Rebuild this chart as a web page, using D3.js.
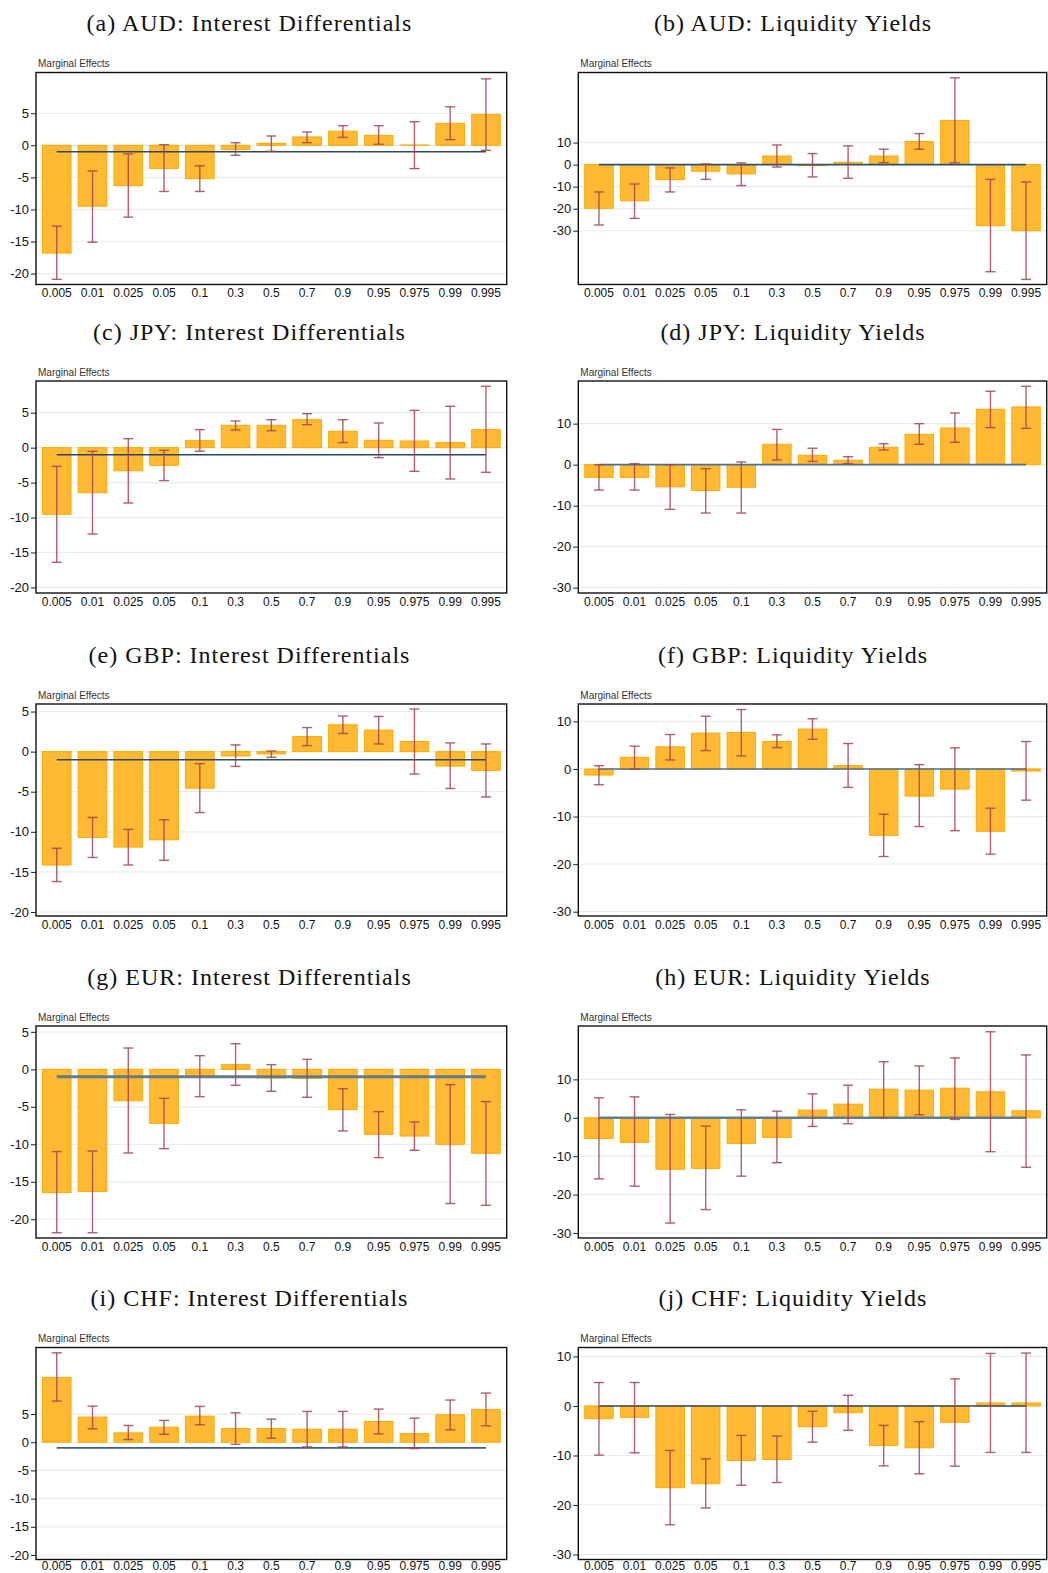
<!DOCTYPE html>
<html><head><meta charset="utf-8">
<script src="https://cdn.jsdelivr.net/npm/d3@7"></script>
<style>body{margin:0;background:#fff}svg{display:block}</style>
</head><body>
<svg id="chart" width="1048" height="1573"></svg>
<script>
// ---------- data ----------
const categories = ["0.005","0.01","0.025","0.05","0.1","0.3","0.5","0.7","0.9","0.95","0.975","0.99","0.995"];

const panelTitles = [
  "(a) AUD: Interest Differentials", "(b) AUD: Liquidity Yields",
  "(c) JPY: Interest Differentials", "(d) JPY: Liquidity Yields",
  "(e) GBP: Interest Differentials", "(f) GBP: Liquidity Yields",
  "(g) EUR: Interest Differentials", "(h) EUR: Liquidity Yields",
  "(i) CHF: Interest Differentials", "(j) CHF: Liquidity Yields"
];
const axisLabel = "Marginal Effects";

// (a) AUD interest differentials
const audIntValue = [-16.8,-9.5,-6.3,-3.6,-5.2,-0.67,0.3,1.3,2.2,1.55,0.05,3.42,4.82];
const audIntLower = [-20.9,-15.1,-11.2,-7.2,-7.2,-1.55,-0.93,0.41,1.24,0.16,-3.63,0.88,-0.78];
const audIntUpper = [-12.6,-4.0,-1.35,0.1,-3.2,0.4,1.45,2.07,3.06,3.06,3.68,6.0,10.36];
// (b) AUD liquidity yields
const audLiqValue = [-19.8,-16.4,-6.8,-3.0,-4.2,3.9,-0.45,1.06,3.9,10.45,20.0,-27.7,-30.0];
const audLiqLower = [-27.4,-24.4,-12.4,-6.7,-9.5,-1.1,-5.6,-6.2,0.9,7.0,0.8,-48.6,-52.1];
const audLiqUpper = [-12.4,-8.8,-1.5,0.3,0.8,8.9,5.0,8.5,7.0,14.1,39.4,-6.7,-7.9];
// (c) JPY interest differentials
const jpyIntValue = [-9.54,-6.44,-3.3,-2.53,1.0,3.2,3.2,4.0,2.34,1.05,0.95,0.72,2.58];
const jpyIntLower = [-16.4,-12.36,-7.92,-4.72,-0.52,2.53,2.43,3.29,0.72,-1.43,-3.39,-4.48,-3.53];
const jpyIntUpper = [-2.67,-0.52,1.29,-0.38,2.58,3.82,4.0,4.87,4.0,3.53,5.34,5.92,8.78];
// (d) JPY liquidity yields
const jpyLiqValue = [-3.1,-3.1,-5.4,-6.3,-5.5,4.96,2.28,1.06,4.23,7.4,8.94,13.5,14.07];
const jpyLiqLower = [-6.2,-6.2,-10.9,-11.8,-11.8,1.14,0.8,0.24,3.58,4.96,5.45,9.02,8.86];
const jpyLiqUpper = [0,0.24,0,-0.98,0.65,8.6,4.0,1.95,5.1,10.0,12.6,17.9,19.1];
// (e) GBP interest differentials
const gbpIntValue = [-14.14,-10.7,-11.9,-11.0,-4.56,-0.54,-0.29,1.88,3.35,2.68,1.26,-1.8,-2.34];
const gbpIntLower = [-16.2,-13.2,-14.14,-13.56,-7.6,-1.84,-0.71,0.75,2.26,0.96,-2.8,-4.6,-5.65];
const gbpIntUpper = [-12.05,-8.2,-9.7,-8.5,-1.5,0.84,0.08,3.0,4.44,4.39,5.31,1.09,0.96];
// (f) GBP liquidity yields
const gbpLiqValue = [-1.27,2.46,4.65,7.54,7.68,5.77,8.38,0.7,-13.94,-5.7,-4.23,-13.1,-0.42];
const gbpLiqLower = [-3.3,0,1.9,3.87,2.75,4.5,6.27,-3.87,-18.4,-12.1,-12.96,-17.9,-6.55];
const gbpLiqUpper = [0.7,4.8,7.25,11.1,12.5,7.18,10.56,5.35,-9.5,0.92,4.44,-8.24,5.77];
// (g) EUR interest differentials
const eurIntValue = [-16.44,-16.3,-4.18,-7.2,-0.89,0.62,-1.16,-1.2,-5.38,-8.67,-8.9,-10.0,-11.2];
const eurIntLower = [-21.8,-21.8,-11.16,-10.58,-3.64,-2.13,-2.93,-3.73,-8.22,-11.78,-10.8,-17.9,-18.13];
const eurIntUpper = [-10.98,-10.9,2.84,-3.87,1.82,3.42,0.62,1.33,-2.58,-5.64,-7.02,-2.04,-4.31];
// (h) EUR liquidity yields
const eurLiqValue = [-5.37,-6.4,-13.4,-13.16,-6.67,-5.1,1.99,3.55,7.45,7.19,7.7,6.75,1.82];
const eurLiqLower = [-15.9,-17.8,-27.4,-23.9,-15.2,-11.7,-2.25,-1.56,0,0.78,-0.43,-8.83,-12.9];
const eurLiqUpper = [5.2,5.45,0.87,-2.16,2.08,1.73,6.23,8.48,14.6,13.5,15.58,22.4,16.36];
// (i) CHF interest differentials
const chfIntValue = [11.5,4.45,1.66,2.67,4.63,2.43,2.43,2.31,2.31,3.68,1.54,4.87,5.82];
const chfIntLower = [7.3,2.37,0.47,1.42,3.09,-0.36,0.71,-0.83,-0.83,1.48,-1.13,2.2,2.91];
const chfIntUpper = [15.85,6.4,2.97,3.86,6.35,5.22,4.1,5.46,5.46,5.88,4.27,7.48,8.72];
// (j) CHF liquidity yields
const chfLiqValue = [-2.57,-2.3,-16.5,-15.7,-11.0,-10.8,-4.19,-1.35,-7.97,-8.45,-3.3,0.6,0.6];
const chfLiqLower = [-9.93,-9.46,-24.0,-20.6,-16.0,-15.47,-7.3,-4.93,-12.1,-13.7,-12.16,-9.39,-9.39];
const chfLiqUpper = [4.73,4.73,-8.99,-10.68,-5.95,-6.08,-1.08,2.16,-3.92,-3.18,5.47,10.6,10.68];

// y axis ranges and tick labels
const yDomains = [[-21.7,11.35],[-54.4,41.8],[-20.8,9.54],[-31.3,20.4],[-20.5,5.94],
                  [-30.9,13.66],[-22.5,5.78],[-31.3,23.9],[-20.8,16.8],[-31.0,11.8]];
const intTicks = [-20,-15,-10,-5,0,5];
const liqTicks = [-30,-20,-10,0,10];
const yTicks = [intTicks, liqTicks, intTicks, liqTicks, intTicks, liqTicks, intTicks, liqTicks, intTicks, liqTicks];
// reference line level
const refValues = [-1,0,-1,0,-1,0,-1,0,-1,0];

const panelValues = [audIntValue,audLiqValue,jpyIntValue,jpyLiqValue,gbpIntValue,gbpLiqValue,eurIntValue,eurLiqValue,chfIntValue,chfLiqValue];
const panelLower  = [audIntLower,audLiqLower,jpyIntLower,jpyLiqLower,gbpIntLower,gbpLiqLower,eurIntLower,eurLiqLower,chfIntLower,chfLiqLower];
const panelUpper  = [audIntUpper,audLiqUpper,jpyIntUpper,jpyLiqUpper,gbpIntUpper,gbpLiqUpper,eurIntUpper,eurLiqUpper,chfIntUpper,chfLiqUpper];

// ---------- layout / style ----------
const colLeft = [36, 578.3];
const colWidth = [470.7, 468.4];
const titleCenter = [249.5, 793];
const rowTop = [72.5, 381, 704, 1026, 1347.5];
const xLabelPad = [4, 4, 4, 4, 1.5];
const plotH = 212;
const refStyle = [
  {c:"#2c4a68",w:1.5},{c:"#27527a",w:1.6},{c:"#22466e",w:1.5},{c:"#4a7190",w:1.6},{c:"#2c4a68",w:1.5},
  {c:"#4a7190",w:1.6},{c:"#5f7d8e",w:3},{c:"#5f7d8e",w:2.6},{c:"#3f5f7c",w:1.6},{c:"#2c4a68",w:1.6}
];

const svg = d3.select("#chart");

panelTitles.forEach((title, i) => {
  const col = i % 2, row = Math.floor(i / 2);
  const L = colLeft[col], W = colWidth[col], T = rowTop[row], H = plotH;
  const g = svg.append("g");

  const x = d3.scaleBand().domain(categories).range([L, L + W]).paddingInner(0.2).paddingOuter(0.18);
  const y = d3.scaleLinear().domain(yDomains[i]).range([T + H, T]);
  const bw = x.bandwidth();

  // title
  g.append("text").attr("x", titleCenter[col]).attr("y", T - 41.5)
    .attr("text-anchor", "middle")
    .style("font-family", "'Liberation Serif','Times New Roman',serif")
    .style("font-size", "24px").style("letter-spacing", "1px").style("fill", "#111")
    .text(title);

  // "Marginal Effects"
  g.append("text").attr("x", L + 2).attr("y", T - 5.5)
    .style("font-family", "'Liberation Sans',Arial,sans-serif")
    .style("font-size", "10px").style("fill", "#333").text(axisLabel);

  // grid
  g.append("g").selectAll("line").data(yTicks[i]).join("line")
    .attr("x1", L).attr("x2", L + W)
    .attr("y1", d => y(d)).attr("y2", d => y(d))
    .attr("stroke", "#e4eef0").attr("stroke-width", 1.2);

  const data = categories.map((c, k) => ({c, v: panelValues[i][k], lo: panelLower[i][k], hi: panelUpper[i][k]}));

  // bars
  g.append("g").selectAll("rect").data(data).join("rect")
    .attr("x", d => x(d.c)).attr("width", bw)
    .attr("y", d => Math.min(y(d.v), y(0)))
    .attr("height", d => Math.abs(y(d.v) - y(0)))
    .attr("fill", "#ffb932").attr("stroke", "#ffa800").attr("stroke-width", 1);

  // reference line
  g.append("line")
    .attr("x1", x(categories[0]) + bw / 2).attr("x2", x(categories[categories.length - 1]) + bw / 2)
    .attr("y1", y(refValues[i])).attr("y2", y(refValues[i]))
    .attr("stroke", refStyle[i].c).attr("stroke-width", refStyle[i].w);

  // error bars
  const eb = g.append("g").attr("stroke", "#a4434f").attr("stroke-width", 1.4).attr("stroke-opacity", 0.85);
  eb.selectAll("line.v").data(data).join("line").attr("class", "v")
    .attr("x1", d => x(d.c) + bw / 2).attr("x2", d => x(d.c) + bw / 2)
    .attr("y1", d => y(d.lo)).attr("y2", d => y(d.hi));
  eb.selectAll("line.lo").data(data).join("line").attr("class", "lo")
    .attr("x1", d => x(d.c) + bw / 2 - 5).attr("x2", d => x(d.c) + bw / 2 + 5)
    .attr("y1", d => y(d.lo)).attr("y2", d => y(d.lo));
  eb.selectAll("line.hi").data(data).join("line").attr("class", "hi")
    .attr("x1", d => x(d.c) + bw / 2 - 5).attr("x2", d => x(d.c) + bw / 2 + 5)
    .attr("y1", d => y(d.hi)).attr("y2", d => y(d.hi));

  // y axis
  const ya = g.append("g").attr("transform", `translate(${L},0)`)
    .call(d3.axisLeft(y).tickValues(yTicks[i]).tickSize(5).tickPadding(2).tickFormat(d3.format("d")));
  ya.select(".domain").remove();
  ya.selectAll(".tick line").attr("stroke", "#222").attr("stroke-width", 1);
  ya.selectAll(".tick text").style("font-family", "'Liberation Sans',Arial,sans-serif")
    .style("font-size", "13px").attr("fill", "#111").text(d => d < 0 ? "-" + Math.abs(d) : d);

  // x axis labels
  const xa = g.append("g").attr("transform", `translate(0,${T + H})`)
    .call(d3.axisBottom(x).tickSize(0).tickPadding(xLabelPad[row]));
  xa.select(".domain").remove();
  xa.selectAll(".tick text").style("font-family", "'Liberation Sans',Arial,sans-serif")
    .style("font-size", "12px").attr("fill", "#111");

  // frame
  g.append("rect").attr("x", L).attr("y", T).attr("width", W).attr("height", H)
    .attr("fill", "none").attr("stroke", "#111").attr("stroke-width", 1.4);
});
</script>
</body></html>
